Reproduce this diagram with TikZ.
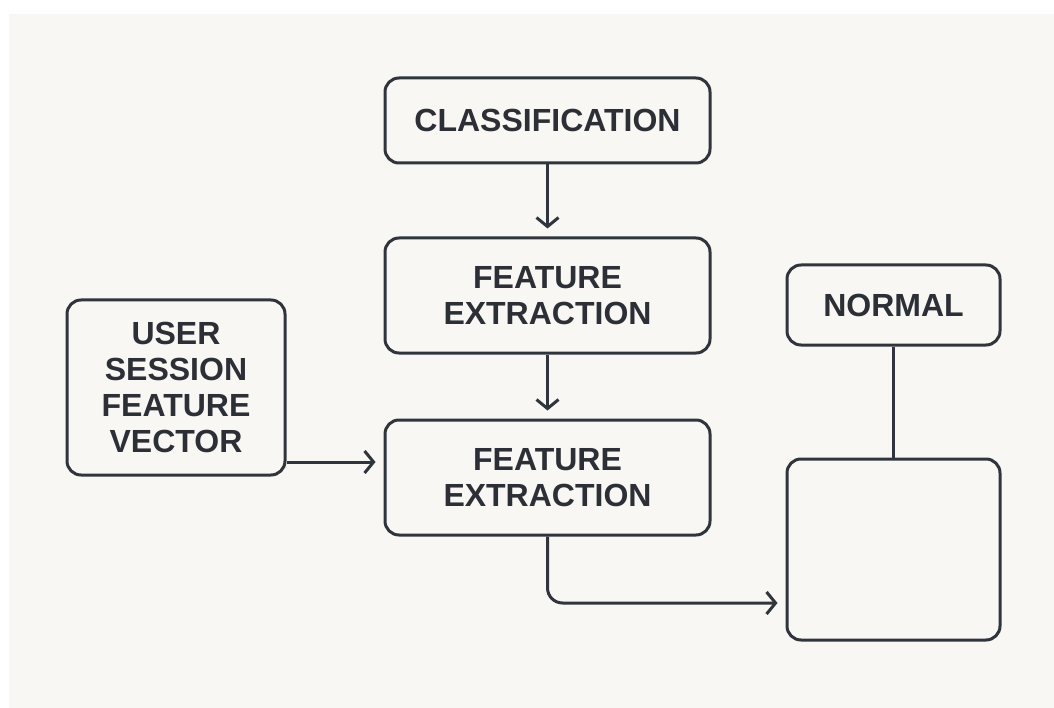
\documentclass[tikz,border=0pt]{standalone}
\usepackage{fontspec}
\setmainfont{Liberation Sans}
\usetikzlibrary{arrows.meta}
\definecolor{ink}{HTML}{2F343D}
\definecolor{txt}{HTML}{2C3036}
\definecolor{paper}{HTML}{F8F7F4}
\tikzset{
  box/.style={draw=ink, line width=3pt, rounded corners=14pt, fill=paper,
    align=center, text=txt, inner sep=0pt,
    font=\bfseries\fontsize{32}{36}\selectfont},
  flow/.style={draw=ink, line width=3pt,
    -{Straight Barb[length=9pt,width=22pt,line width=3pt]}, shorten >=8pt},
  link/.style={draw=ink, line width=3pt}
}
\begin{document}
\begin{tikzpicture}[x=1pt,y=-1pt]
  % page and paper area
  \useasboundingbox (0,0) rectangle (1054,708);
  \fill[white] (0,0) rectangle (1054,708);
  \fill[paper] (9,14) rectangle (1054,708);

  % processing chain
  \node[box, minimum width=325pt, minimum height=85pt]  (cls) at (547.5,120.5) {CLASSIFICATION};
  \node[box, minimum width=325pt, minimum height=115pt] (fe1) at (547.5,295.5) {FEATURE\\EXTRACTION};
  \node[box, minimum width=325pt, minimum height=115pt] (fe2) at (547.5,477.5) {FEATURE\\EXTRACTION};

  % input
  \node[box, minimum width=218pt, minimum height=175pt] (usr) at (176,387.5) {USER\\SESSION\\FEATURE\\VECTOR};

  % output side
  \node[box, minimum width=213pt, minimum height=80pt]  (nrm) at (893.5,305) {NORMAL};
  \node[box, minimum width=213pt, minimum height=181pt] (out) at (893.5,549.5) {};

  % connectors
  \coordinate (uin) at (285,462);
  \coordinate (oin) at (787,603);
  \draw[flow] (cls.south) -- (fe1.north);
  \draw[flow] (fe1.south) -- (fe2.north);
  \draw[flow] (usr.east |- uin) -- (fe2.west |- uin);
  \draw[flow, rounded corners=15pt] (fe2.south) |- (out.west |- oin);
  \draw[link] (nrm.south) -- (out.north);
\end{tikzpicture}
\end{document}
